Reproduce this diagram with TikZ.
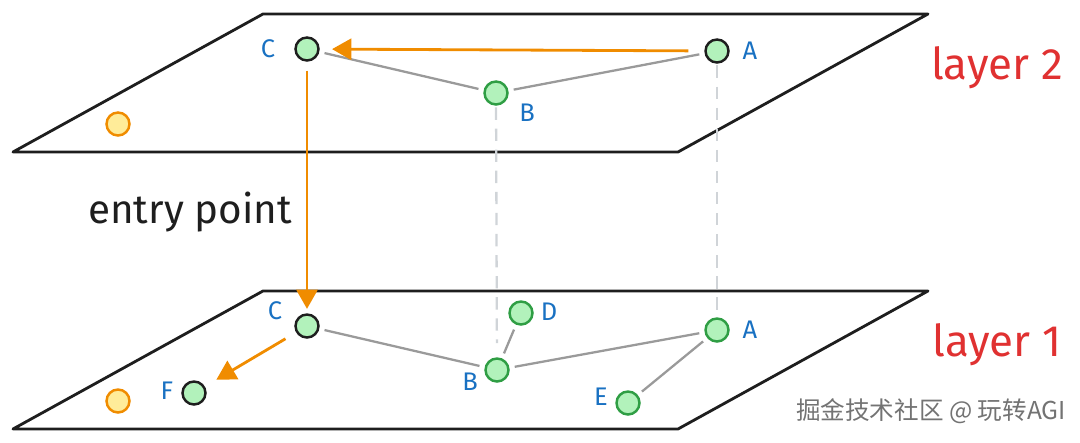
\documentclass[tikz,border=0pt]{standalone}
\usepackage{fontspec}
\setmainfont{Fira Sans}
\newfontfamily\cjkfont{Noto Sans CJK SC}
\usetikzlibrary{arrows.meta}
\usepackage{xcolor}

\definecolor{inkblack}{HTML}{1E1E1E}
\definecolor{edgegray}{HTML}{9A9A9A}
\definecolor{dropgray}{HTML}{D0D4D8}
\definecolor{hoporange}{HTML}{F08C00}
\definecolor{nodefill}{HTML}{B2F2BB}
\definecolor{nodegreen}{HTML}{2F9E44}
\definecolor{sparefill}{HTML}{FFEC99}
\definecolor{lblblue}{HTML}{1971C2}
\definecolor{layerred}{HTML}{E03131}

\begin{document}
\begin{tikzpicture}[x=0.02cm, y=-0.02cm,
  plane/.style={draw=inkblack, line width=1.6pt, line join=round},
  vtx/.style={circle, draw=nodegreen, fill=nodefill, line width=1.4pt, minimum size=0.46cm, inner sep=0},
  dark/.style={draw=inkblack},
  spare/.style={circle, draw=hoporange, fill=sparefill, line width=1.4pt, minimum size=0.46cm, inner sep=0},
  lbl/.style={text=lblblue, font=\fontsize{14.5}{16}\selectfont},
  link/.style={draw=edgegray, line width=1.3pt, shorten <=3pt, shorten >=3pt},
  drop/.style={draw=dropgray, line width=1.3pt, dash pattern=on 7pt off 5pt},
  hop/.style={draw=hoporange, line width=1.6pt, -{Triangle[length=11pt,width=12pt]}},
  note/.style={text=inkblack, font=\fontsize{23}{27}\selectfont},
  layer/.style={text=layerred, font=\fontsize{25}{29}\selectfont},
  wmark/.style={text=black!55, font=\cjkfont\fontsize{14}{16}\selectfont}]
\useasboundingbox (0,0) rectangle (1080,443);

% the two layers
\foreach \dy in {0,277} {
 \draw[plane] (263,14+\dy) -- (928,14+\dy) -- (678,152+\dy) -- (13,152+\dy) -- cycle;
}

% layer 2
\node[vtx, dark] (Ct) at (307,49) {};
\node[vtx] (Bt) at (496,93) {};
\node[vtx, dark] (At) at (717,51) {};
\node[spare] (Yt) at (118,124) {};
\node[lbl] (Ct-lbl) at (268,49) {C};
\node[lbl] (Bt-lbl) at (527,113) {B};
\node[lbl] (At-lbl) at (750,51) {A};

% layer 1
\node[vtx, dark] (Cb) at (307,326) {};
\node[vtx, dark] (Fb) at (194,393) {};
\node[vtx] (Bb) at (497,370) {};
\node[vtx] (Db) at (521,313) {};
\node[vtx] (Ab) at (717,330) {};
\node[vtx] (Eb) at (628,403) {};
\node[spare] (Yb) at (118,401) {};
\node[lbl] (Cb-lbl) at (275,311) {C};
\node[lbl] (Fb-lbl) at (167,391) {F};
\node[lbl] (Bb-lbl) at (470,382) {B};
\node[lbl] (Db-lbl) at (549,312) {D};
\node[lbl] (Ab-lbl) at (750,330) {A};
\node[lbl] (Eb-lbl) at (601,397) {E};

% edges
\draw[link] (Ct) -- (Bt);
\draw[link] (Bt) -- (At);
\draw[link] (Cb) -- (Bb);
\draw[link] (Bb) -- (Ab);
\draw[link] (Bb) -- (Db);
\draw[link] (Ab) -- (Eb);
\draw[drop, shorten <=1pt, shorten >=8pt] (Bt) -- (Bb);
\draw[drop, shorten <=1pt, shorten >=2pt] (At) -- (Ab);

% search path
\draw[hop, shorten <=9pt, shorten >=7pt] (At) -- (Ct);
\draw[hop, shorten <=5pt, shorten >=2.5pt] (Ct) -- (Cb);
\draw[hop, shorten <=7pt, shorten >=7.5pt] (Cb) -- (Fb);

\node[note] (entry) at (190,212) {entry point};
\node[layer] (l2) at (997,68) {layer 2};
\node[layer] (l1) at (997,345) {layer 1};
\node[wmark] (wm) at (931,411) {掘金技术社区 @ 玩转AGI};
\end{tikzpicture}
\end{document}
